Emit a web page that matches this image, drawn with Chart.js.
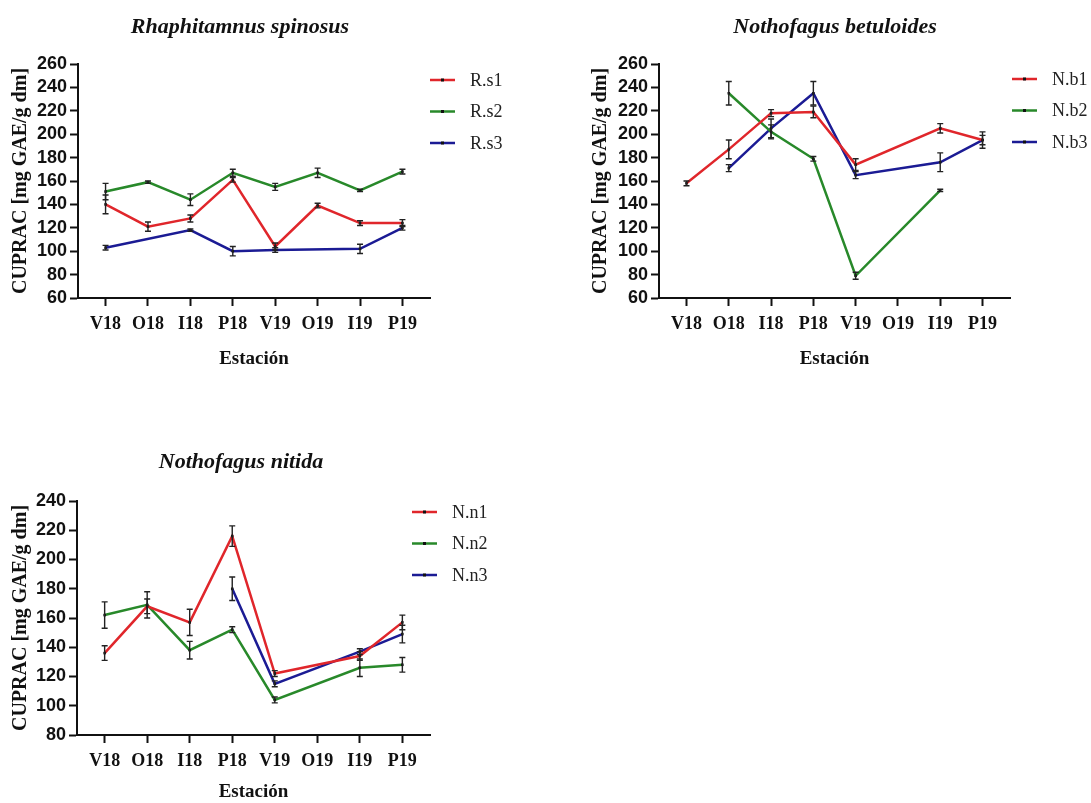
<!DOCTYPE html>
<html>
<head>
<meta charset="utf-8">
<script src="https://cdn.jsdelivr.net/npm/chart.js@4.4.0/dist/chart.umd.min.js"></script>
<style>
  body { margin: 0; background: #fff; width: 1091px; height: 803px; position: relative; overflow: hidden; }
  canvas { position: absolute; }
</style>
</head>
<body>
<canvas id="c1" width="545" height="370" style="left:0;top:0"></canvas>
<canvas id="c2" width="511" height="370" style="left:580px;top:0"></canvas>
<canvas id="c3" width="545" height="368" style="left:0;top:435px"></canvas>
<script>
const stations = ['V18', 'O18', 'I18', 'P18', 'V19', 'O19', 'I19', 'P19'];

// Rhaphitamnus spinosus
const rs1 = [140, 121, 128, 161, 104, 139, 124, 124];
const rs1Err = [8, 4, 3, 2, 3, 2, 2, 3];
const rs2 = [151, 159, 144, 167, 155, 167, 152, 168];
const rs2Err = [7, 1, 5, 3, 3, 4, 1, 2];
const rs3 = [103, null, 118, 100, 101, null, 102, 120];
const rs3Err = [2, null, 1, 4, 2, null, 4, 2];

// Nothofagus betuloides
const nb1 = [158, 187, 218, 219, 174, null, 205, 195];
const nb1Err = [2, 8, 3, 5, 5, null, 4, 7];
const nb2 = [null, 235, 202, 179, 79, null, 152, null];
const nb2Err = [null, 10, 6, 2, 3, null, 1, null];
const nb3 = [null, 171, 205, 235, 165, null, 176, 195];
const nb3Err = [null, 3, 8, 10, 3, null, 8, 4];

// Nothofagus nitida
const nn1 = [136, 168, 157, 216, 122, null, 134, 157];
const nn1Err = [5, 5, 9, 7, 2, null, 3, 5];
const nn2 = [162, 169, 138, 152, 104, null, 126, 128];
const nn2Err = [9, 9, 6, 2, 2, null, 6, 5];
const nn3 = [null, null, null, 180, 115, null, 137, 149];
const nn3Err = [null, null, null, 8, 2, null, 2, 6];

const RED = '#e0262b';
const GREEN = '#28892a';
const BLUE = '#1b1b94';

function series(label, values, errs, color) {
    return {
        label: label,
        data: values.map((v, i) => ({ x: i, y: v })),
        errors: errs,
        borderColor: color,
        backgroundColor: color,
        borderWidth: 2.5,
        pointStyle: 'rect',
        pointRadius: 1.8,
        pointBackgroundColor: '#111',
        pointBorderWidth: 0,
        spanGaps: true,
        tension: 0
    };
}

// vertical error bars with caps
const errorBars = {
    id: 'errorBars',
    afterDatasetsDraw(chart) {
        const ctx = chart.ctx;
        const yScale = chart.scales.y;
        ctx.save();
        ctx.strokeStyle = '#222';
        ctx.lineWidth = 1.4;
        chart.data.datasets.forEach((ds, di) => {
            const meta = chart.getDatasetMeta(di);
            ds.data.forEach((p, i) => {
                const e = ds.errors[i];
                if (p.y === null || !e) return;
                const x = meta.data[i].x;
                const top = yScale.getPixelForValue(p.y + e);
                const bot = yScale.getPixelForValue(p.y - e);
                ctx.beginPath();
                ctx.moveTo(x, top); ctx.lineTo(x, bot);
                ctx.moveTo(x - 3, top); ctx.lineTo(x + 3, top);
                ctx.moveTo(x - 3, bot); ctx.lineTo(x + 3, bot);
                ctx.stroke();
            });
        });
        ctx.restore();
    }
};

// title and legend, placed by hand
const decor = {
    id: 'decor',
    afterDraw(chart, args, opts) {
        const ctx = chart.ctx;
        ctx.save();
        ctx.fillStyle = '#111';
        ctx.font = 'italic bold 22px "Liberation Serif"';
        ctx.textAlign = 'center';
        ctx.textBaseline = 'middle';
        ctx.fillText(opts.title, opts.titleX, opts.titleY);

        ctx.textAlign = 'left';
        ctx.font = '18px "Liberation Serif"';
        chart.data.datasets.forEach((ds, i) => {
            const y = opts.y0 + i * opts.dy;
            ctx.strokeStyle = ds.borderColor;
            ctx.lineWidth = 2.5;
            ctx.beginPath();
            ctx.moveTo(opts.x1, y);
            ctx.lineTo(opts.x1 + 25, y);
            ctx.stroke();
            ctx.fillStyle = '#111';
            ctx.fillRect(opts.x1 + 11, y - 1.5, 3, 3);
            ctx.fillStyle = '#222';
            ctx.fillText(ds.label, opts.x1 + 40, y + 1);
        });
        ctx.restore();
    }
};

function makeChart(id, datasets, cfg) {
    const ctx = document.getElementById(id).getContext('2d');
    return new Chart(ctx, {
        type: 'line',
        data: { datasets: datasets },
        plugins: [errorBars, decor],
        options: {
            responsive: false,
            animation: false,
            devicePixelRatio: 1,
            layout: { padding: { left: 0, right: cfg.padRight, top: cfg.padTop, bottom: 0 } },
            plugins: {
                legend: { display: false },
                tooltip: { enabled: false },
                title: { display: false },
                decor: cfg.decor
            },
            scales: {
                x: {
                    type: 'linear',
                    min: -0.65,
                    max: 7.65,
                    afterBuildTicks: (scale) => {
                        scale.ticks = stations.map((s, i) => ({ value: i }));
                    },
                    afterFit: (scale) => { scale.height = cfg.xHeight; },
                    grid: { drawOnChartArea: false, tickLength: 8, tickColor: '#111', tickWidth: 2 },
                    border: { color: '#111', width: 2 },
                    ticks: {
                        autoSkip: false,
                        maxRotation: 0,
                        padding: 8,
                        color: '#111',
                        font: { family: 'Liberation Serif', size: 18, weight: 'bold' },
                        callback: (v) => stations[v]
                    },
                    title: {
                        display: true,
                        text: 'Estación',
                        color: '#111',
                        font: { family: 'Liberation Serif', size: 19, weight: 'bold', lineHeight: 1.2 },
                        padding: { top: 0, bottom: 0 }
                    }
                },
                y: {
                    min: cfg.yMin,
                    max: cfg.yMax,
                    afterFit: (scale) => { scale.width = cfg.yWidth; },
                    grid: { drawOnChartArea: false, tickLength: 8, tickColor: '#111', tickWidth: 2 },
                    border: { color: '#111', width: 2 },
                    ticks: {
                        stepSize: 20,
                        autoSkip: false,
                        padding: 3,
                        color: '#111',
                        font: { family: 'Liberation Sans', size: 18, weight: 'bold', lineHeight: 1 }
                    },
                    title: {
                        display: true,
                        text: 'CUPRAC [mg GAE/g dm]',
                        color: '#111',
                        font: { family: 'Liberation Serif', size: 20, weight: 'bold', lineHeight: 1.2 },
                        padding: { top: 9, bottom: 0 }
                    }
                }
            }
        }
    });
}

document.addEventListener('DOMContentLoaded', () => {
    makeChart('c1', [
        series('R.s1', rs1, rs1Err, RED),
        series('R.s2', rs2, rs2Err, GREEN),
        series('R.s3', rs3, rs3Err, BLUE)
    ], { yMin: 60, yMax: 260, yWidth: 78, padRight: 115, padTop: 64, xHeight: 72,
         decor: { title: 'Rhaphitamnus spinosus', titleX: 240, titleY: 27, x1: 430, y0: 80, dy: 31.5 } });

    makeChart('c2', [
        series('N.b1', nb1, nb1Err, RED),
        series('N.b2', nb2, nb2Err, GREEN),
        series('N.b3', nb3, nb3Err, BLUE)
    ], { yMin: 60, yMax: 260, yWidth: 79, padRight: 81, padTop: 64, xHeight: 72,
         decor: { title: 'Nothofagus betuloides', titleX: 255, titleY: 27, x1: 432, y0: 79, dy: 31.5 } });

    makeChart('c3', [
        series('N.n1', nn1, nn1Err, RED),
        series('N.n2', nn2, nn2Err, GREEN),
        series('N.n3', nn3, nn3Err, BLUE)
    ], { yMin: 80, yMax: 240, yWidth: 77, padRight: 115, padTop: 66, xHeight: 68,
         decor: { title: 'Nothofagus nitida', titleX: 241, titleY: 27, x1: 412, y0: 77, dy: 31.5 } });
});
</script>
</body>
</html>
